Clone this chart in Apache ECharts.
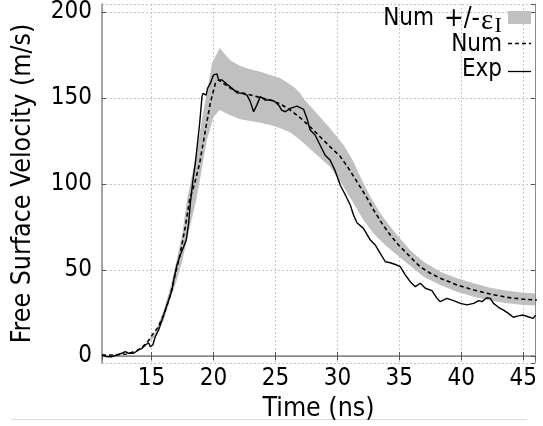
<!DOCTYPE html>
<html>
<head>
<meta charset="utf-8">
<script src="https://cdn.jsdelivr.net/npm/echarts@6/dist/echarts.min.js"></script>
<style>
html,body{margin:0;padding:0;background:#fff;}
#chart{width:543px;height:426px;}
</style>
</head>
<body>
<div id="chart"></div>
<script>
// ---- data (time in ns, velocity in m/s) ----
const xTitle = 'Time (ns)';
const yTitle = 'Free Surface Velocity (m/s)';
const legendNames = ['Num', '+/-', 'Num', 'Exp'];

const expData = [[11.0,0.6],[11.4,-0.4],[11.8,-0.4],[12.2,0.6],[12.6,1.6],[12.88,2.5],[13.15,1.6],[13.55,1.6],[13.95,3.5],[14.23,4.5],[14.5,6.4],[14.76,7.7],[14.9,5.4],[15.1,6.4],[15.3,11.2],[15.57,15.1],[15.84,20.9],[16.1,26.7],[16.38,32.6],[16.65,38.4],[16.84,46.1],[17.05,52.9],[17.32,58.7],[17.59,63.5],[17.8,67.4],[17.99,77.1],[18.13,88.8],[18.34,102.3],[18.53,112],[18.88,135],[19.07,150.8],[19.15,152.7],[19.4,151.7],[19.52,155.6],[19.74,158.5],[20.0,163.4],[20.28,164],[20.41,160.5],[20.69,160.5],[21.09,158],[21.5,155.6],[21.9,153],[22.3,152.7],[22.7,151.7],[22.97,147.9],[23.24,142],[23.5,146],[23.78,150.8],[24.18,148.8],[24.58,148.8],[24.85,148.4],[25.25,146],[25.5,143],[25.8,142],[26.2,144],[26.74,145.3],[27.27,143.4],[27.55,138],[27.8,131.4],[28.2,128.5],[28.6,122.7],[29.0,116.9],[29.4,114],[29.8,108],[30.23,99.4],[30.64,93.6],[31.04,87.8],[31.3,82],[31.58,77.5],[32.1,74.2],[32.66,67.4],[33.06,64.5],[33.46,59.7],[33.87,54.8],[34.27,54.2],[34.8,52.9],[35.07,51.9],[35.48,47.1],[35.88,43.2],[36.29,40.3],[36.69,42.3],[37.1,39.4],[37.63,38],[38.04,33.5],[38.3,31.6],[38.84,33.5],[39.38,32.2],[39.92,30.6],[40.46,29.7],[41.0,30.6],[41.4,32.2],[41.67,31.6],[42.07,33.9],[42.34,33.5],[42.6,30.6],[43.0,28.3],[43.41,26.7],[43.8,24.8],[44.2,22.5],[44.6,23.3],[45.0,23.8],[45.4,22.8],[45.8,21.9],[46.0,23.8]];

const numData = [[11,0.5],[12,0.6],[13,1.2],[13.8,3],[14.3,5.5],[14.76,9],[15.03,12],[15.5,16.5],[16,24],[16.5,35],[17,50],[17.3,59],[17.72,75],[18.07,90.7],[18.5,101],[18.88,112],[19.34,131],[19.74,147],[20.15,158.5],[20.41,160.5],[20.8,158.5],[21.3,156],[21.9,153.7],[22.7,152.3],[23.5,150.8],[24.58,148.8],[25.4,146.5],[26.2,143],[27.0,138.5],[27.8,133.3],[28.6,127.5],[29.4,121.7],[30.2,116.3],[30.9,109.1],[31.58,101.3],[32.25,93.6],[32.92,84.9],[33.6,77.1],[34.27,70.3],[34.94,64.5],[35.6,59.7],[36.3,54.5],[36.69,51.9],[37.5,48.1],[38.3,45.2],[39.65,41.3],[41.0,38.4],[42.34,36],[43.7,34.1],[45.0,33],[46.1,32.6]];

const bandUpper = [[14.8,9.5],[15.3,14],[16,27],[16.6,42],[17.0,55],[17.5,72],[17.86,90.7],[18.6,117],[19.2,143],[19.88,170],[20.49,179],[21.35,172],[22.16,168.6],[22.97,166.7],[23.78,165.3],[24.58,163.4],[25.4,161.5],[26.06,158.5],[26.6,155.6],[27.0,152.7],[27.27,149.5],[28.35,141],[29.4,132.4],[30.5,122.7],[31.3,113],[31.98,102.3],[32.66,92.6],[33.46,83],[34.27,75.2],[35.07,68.2],[35.88,61.5],[36.96,54.8],[38.3,49],[39.65,45.2],[41.0,42.3],[42.34,39.7],[43.7,38],[45.0,36.8],[46.2,36.4]];

const bandLower = [[14.8,8.5],[15.3,11],[16,21],[16.6,35],[17.0,43],[17.5,56],[18.0,72],[18.61,90.7],[19.47,125.6],[20.0,139],[20.49,143],[21.35,140],[22.16,137.6],[22.97,136.6],[23.78,135.6],[24.58,134.3],[25.4,132.4],[26.2,130],[27.0,125.6],[28.35,116.9],[29.4,110],[30.5,98.4],[31.3,88.8],[32.1,79],[32.9,71.3],[33.7,65.5],[34.5,60.6],[35.3,55.8],[35.88,52.5],[36.96,46.1],[38.3,41.3],[39.65,37.4],[41.0,34.5],[42.34,32.2],[43.7,30.6],[45.0,29.7],[46.2,29.2]];

const xMin = 11, xMax = 45.95;
const yMin = -4.07, yMax = 204.65;

// ---- chart ----
const FONT = "'DejaVu Sans Condensed', 'DejaVu Sans', sans-serif";
const gridCol = '#c4c4c4';
const axisCol = '#8a8a8a';

const chart = echarts.init(document.getElementById('chart'), null, {renderer: 'canvas'});

function xAx(pos, main) {
  return {
    type: 'value', position: pos, min: xMin, max: xMax, splitNumber: 7,
    name: main ? xTitle : '', nameLocation: 'middle', nameGap: 29,
    nameTextStyle: {fontFamily: FONT, fontSize: 26.5, color: '#000'},
    axisLine: {show: true, lineStyle: {color: axisCol, width: main ? 1.5 : 1}},
    axisTick: {show: true, inside: true, length: 4, lineStyle: {color: '#555'}},
    axisLabel: {show: main, fontFamily: FONT, fontSize: 24, color: '#000', margin: 4,
      showMinLabel: false, showMaxLabel: false},
    splitLine: {show: main, lineStyle: {color: gridCol, type: [2, 2], width: 1}}
  };
}
function yAx(pos, main) {
  return {
    type: 'value', position: pos, min: yMin, max: yMax, splitNumber: 5,
    name: main ? yTitle : '', nameLocation: 'middle', nameGap: 65, nameRotate: 90,
    nameTextStyle: {fontFamily: FONT, fontSize: 26.5, color: '#000'},
    axisLine: {show: true, lineStyle: {color: axisCol, width: main ? 1.5 : 1}},
    axisTick: {show: true, inside: true, length: 4, lineStyle: {color: '#555'}},
    axisLabel: {show: main, fontFamily: FONT, fontSize: 24, color: '#000', margin: 10,
      showMinLabel: false, showMaxLabel: false},
    splitLine: {show: main, lineStyle: {color: gridCol, type: [2, 2], width: 1}}
  };
}

const option = {
  animation: false,
  backgroundColor: '#fff',
  grid: {left: 102, top: 4, width: 433, height: 359, show: false, containLabel: false, outerBoundsMode: 'none'},
  xAxis: [xAx('bottom', true), xAx('top', false)],
  yAxis: [yAx('left', true), yAx('right', false)],
  series: [
    {
      name: 'Num +/-εI', type: 'custom', xAxisIndex: 0, yAxisIndex: 0, clip: true, z: 1,
      data: bandUpper,
      renderItem: function (params, api) {
        if (params.dataIndex !== 0) return null;
        const pts = bandUpper.map(p => api.coord(p))
          .concat(bandLower.slice().reverse().map(p => api.coord(p)));
        return {type: 'polygon', shape: {points: pts}, style: {fill: '#c0c0c0', stroke: null}};
      }
    },
    {
      name: legendNames[2], type: 'line', data: numData, showSymbol: false, z: 3,
      lineStyle: {color: '#000', width: 1.6, type: [4, 3]}
    },
    {
      name: legendNames[3], type: 'line', data: expData, showSymbol: false, z: 4,
      lineStyle: {color: '#000', width: 1.4}
    }
  ],
  graphic: [
    // legend
    {type: 'text', z: 10, style: {x: 434, y: 19, text: legendNames[0], align: 'right', verticalAlign: 'middle', font: "24px " + FONT, fill: '#000'}},
    {type: 'text', z: 10, style: {x: 480, y: 19, text: legendNames[1], align: 'right', verticalAlign: 'middle', font: "26px " + FONT, fill: '#000'}},
    {type: 'text', z: 10, style: {x: 481, y: 21, text: 'ε', align: 'left', verticalAlign: 'middle', font: "29px 'Liberation Serif', serif", fill: '#000'}},
    {type: 'text', z: 10, style: {x: 494.5, y: 26, text: 'I', align: 'left', verticalAlign: 'middle', font: "22px 'Liberation Serif', serif", fill: '#000'}},
    {type: 'rect', z: 10, shape: {x: 508, y: 11, width: 23, height: 13}, style: {fill: '#c0c0c0'}},
    {type: 'text', z: 10, style: {x: 502, y: 44.5, text: legendNames[2], align: 'right', verticalAlign: 'middle', font: "24px " + FONT, fill: '#000'}},
    {type: 'line', z: 10, shape: {x1: 508, y1: 43.5, x2: 531, y2: 43.5}, style: {stroke: '#000', lineWidth: 1.3, lineDash: [4, 3]}},
    {type: 'text', z: 10, style: {x: 502, y: 69.5, text: legendNames[3], align: 'right', verticalAlign: 'middle', font: "24px " + FONT, fill: '#000'}},
    {type: 'line', z: 10, shape: {x1: 508, y1: 71.5, x2: 531, y2: 71.5}, style: {stroke: '#000', lineWidth: 1.3}},
    // bottom separator line
    {type: 'line', z: 0, shape: {x1: 11, y1: 419.5, x2: 527, y2: 419.5}, style: {stroke: '#dddddd', lineWidth: 1}}
  ]
};
chart.setOption(option);
</script>
</body>
</html>
